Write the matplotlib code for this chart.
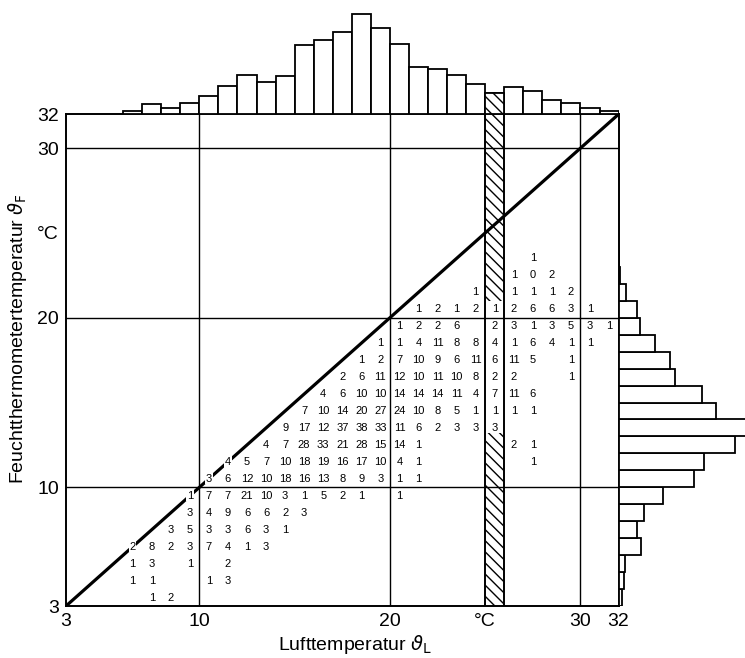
import matplotlib.pyplot as plt
from matplotlib.patches import Rectangle

plt.rcParams['font.family'] = ['Liberation Sans', 'DejaVu Sans']
plt.rcParams['hatch.linewidth'] = 1.0

# Anzahl je Zelle: Zeile = Feuchttemperatur (untere Grenze), {Lufttemperatur (untere Grenze): Anzahl}
rows = {
    23: {27: 1},
    22: {26: 1, 27: 0, 28: 2},
    21: {24: 1, 26: 1, 27: 1, 28: 1, 29: 2},
    20: {21: 1, 22: 2, 23: 1, 24: 2, 25: 1, 26: 2, 27: 6, 28: 6, 29: 3, 30: 1},
    19: {20: 1, 21: 2, 22: 2, 23: 6, 25: 2, 26: 3, 27: 1, 28: 3, 29: 5, 30: 3, 31: 1},
    18: {19: 1, 20: 1, 21: 4, 22: 11, 23: 8, 24: 8, 25: 4, 26: 1, 27: 6, 28: 4, 29: 1, 30: 1},
    17: {18: 1, 19: 2, 20: 7, 21: 10, 22: 9, 23: 6, 24: 11, 25: 6, 26: 11, 27: 5, 29: 1},
    16: {17: 2, 18: 6, 19: 11, 20: 12, 21: 10, 22: 11, 23: 10, 24: 8, 25: 2, 26: 2, 29: 1},
    15: {16: 4, 17: 6, 18: 10, 19: 10, 20: 14, 21: 14, 22: 14, 23: 11, 24: 4, 25: 7, 26: 11, 27: 6},
    14: {15: 7, 16: 10, 17: 14, 18: 20, 19: 27, 20: 24, 21: 10, 22: 8, 23: 5, 24: 1, 25: 1, 26: 1, 27: 1},
    13: {14: 9, 15: 17, 16: 12, 17: 37, 18: 38, 19: 33, 20: 11, 21: 6, 22: 2, 23: 3, 24: 3, 25: 3},
    12: {13: 4, 14: 7, 15: 28, 16: 33, 17: 21, 18: 28, 19: 15, 20: 14, 21: 1, 26: 2, 27: 1},
    11: {11: 4, 12: 5, 13: 7, 14: 10, 15: 18, 16: 19, 17: 16, 18: 17, 19: 10, 20: 4, 21: 1, 27: 1},
    10: {10: 3, 11: 6, 12: 12, 13: 10, 14: 18, 15: 16, 16: 13, 17: 8, 18: 9, 19: 3, 20: 1, 21: 1},
    9: {9: 1, 10: 7, 11: 7, 12: 21, 13: 10, 14: 3, 15: 1, 16: 5, 17: 2, 18: 1, 20: 1},
    8: {9: 3, 10: 4, 11: 9, 12: 6, 13: 6, 14: 2, 15: 3},
    7: {8: 3, 9: 5, 10: 3, 11: 3, 12: 6, 13: 3, 14: 1},
    6: {6: 2, 7: 8, 8: 2, 9: 3, 10: 7, 11: 4, 12: 1, 13: 3},
    5: {6: 1, 7: 3, 9: 1, 11: 2},
    4: {6: 1, 7: 1, 10: 1, 11: 3},
    3: {7: 1, 8: 2},
}

# Randverteilungen (oben: Lufttemperatur, rechts: Feuchttemperatur)
top_bins = list(range(6, 32))
top_counts = [4, 13, 8, 14, 24, 37, 51, 42, 50, 90, 96, 106, 130, 112, 91, 61,
              59, 51, 39, 28, 35, 30, 18, 15, 8, 4]
right_bins = list(range(3, 24))
right_counts = [4, 7, 9, 30, 24, 34, 59, 100, 113, 155, 174, 129, 111, 75, 69,
                49, 29, 25, 10, 2, 1]

xticks = [3, 10, 20, 25, 30, 32]
xlabels = ['3', '10', '20', '°C', '30', '32']
hatch_col = 25

fig = plt.figure(figsize=(7.45, 6.58), dpi=100)
ax = fig.add_axes([0.0886, 0.0790, 0.7417, 0.7474])
ax_top = fig.add_axes([0.0886, 0.8264, 0.7417, 0.1736])
ax_right = fig.add_axes([0.8303, 0.0790, 0.1697, 0.7474])

# Hauptfeld
ax.set_xlim(3, 32)
ax.set_ylim(3, 32)
for s in ax.spines.values():
    s.set_linewidth(1.4)
for g in [10, 20, 30]:
    ax.axvline(g, color='black', lw=1.0, zorder=1)
    ax.axhline(g, color='black', lw=1.0, zorder=1)
ax.axvline(hatch_col, color='black', lw=1.4, zorder=1)
ax.axvline(hatch_col + 1, color='black', lw=1.4, zorder=1)
ax.add_patch(Rectangle((hatch_col, 21), 1, 11, fill=False, hatch='\\\\\\',
                       lw=0, zorder=1))
ax.add_patch(Rectangle((hatch_col, 3), 1, 10.2, fill=False, hatch='\\\\\\',
                       lw=0, zorder=1))
ax.plot([3, 32], [3, 32], color='black', lw=2.3, zorder=2)

for w, cells in rows.items():
    for v, n in cells.items():
        kw = {}
        if v == w:
            kw['bbox'] = dict(facecolor='white', edgecolor='none', pad=0.5)
        ax.text(v + 0.5, w + 0.5, str(n), ha='center', va='center',
                fontsize=8, zorder=3, **kw)

ax.set_xticks(xticks)
ax.set_xticklabels(xlabels, fontsize=14)
ax.set_yticks(xticks)
ax.set_yticklabels(xlabels, fontsize=14)
ax.tick_params(length=0, pad=5)

# obere Randverteilung
ax_top.bar(top_bins, top_counts, width=1, align='edge', facecolor='white',
           edgecolor='black', lw=1.3)
ax_top.bar([hatch_col], [top_counts[top_bins.index(hatch_col)]], width=1,
           align='edge', facecolor='white', edgecolor='black', lw=1.3,
           hatch='\\\\\\')
ax_top.set_xlim(3, 32)
ax_top.set_ylim(0, 148)
ax_top.axis('off')

# rechte Randverteilung
ax_right.barh(right_bins, right_counts, height=1, align='edge',
              facecolor='white', edgecolor='black', lw=1.3)
ax_right.set_ylim(3, 32)
ax_right.set_xlim(0, 168)
ax_right.axis('off')

fig.text(0.477, 0.02, r'Lufttemperatur $\vartheta_{\mathrm{L}}$', fontsize=14,
         ha='center', va='center')
fig.text(0.024, 0.486, r'Feuchtthermometertemperatur $\vartheta_{\mathrm{F}}$',
         fontsize=14, rotation=90, ha='center', va='center')

fig.savefig('out.png', dpi=100)
